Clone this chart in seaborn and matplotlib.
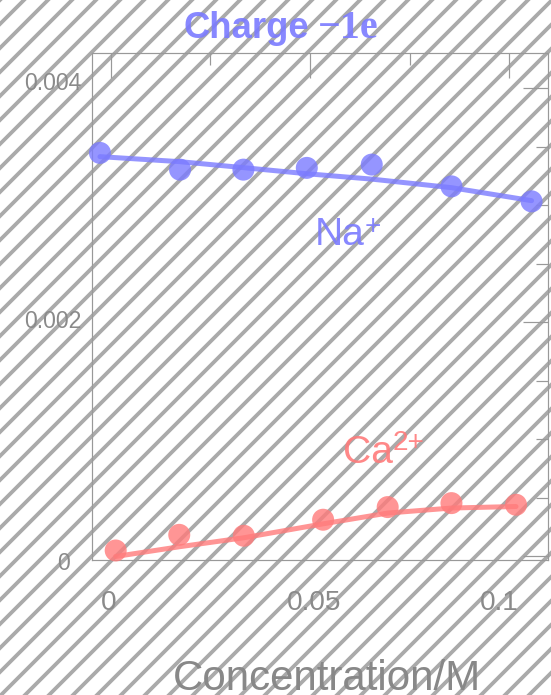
import matplotlib
matplotlib.use('Agg')
import matplotlib.pyplot as plt
from matplotlib.ticker import FixedLocator, FixedFormatter
from matplotlib.transforms import ScaledTranslation
import pandas as pd
import seaborn as sns

sns.set_style('white')
plt.rcParams['font.family'] = ['Liberation Sans', 'DejaVu Sans']
plt.rcParams['hatch.linewidth'] = 3.8

# values
na_x = [-0.0027, 0.0174, 0.0333, 0.0492, 0.0655, 0.0855, 0.1056]
na_y = [0.003448, 0.003305, 0.003305, 0.003320, 0.003348, 0.003162, 0.003034]
na_line = [0.003416, 0.003373, 0.003322, 0.003270, 0.003224, 0.003151, 0.003040]

ca_x = [0.00125, 0.0172, 0.0334, 0.0533, 0.0695, 0.0855, 0.1017]
ca_y = [0.0000513, 0.000185, 0.000177, 0.000314, 0.000422, 0.000456, 0.000442]
ca_line = [0.0, 0.000083, 0.000160, 0.000279, 0.000371, 0.000414, 0.000427]

x_ticks = [0, 0.05, 0.1]
x_labels = ['0', '0.05', '0.1']
x_minor = [0.025, 0.075]
y_ticks = [0, 0.002, 0.004]
y_labels = ['0', '0.002', '0.004']
y_minor = [0.0005, 0.001, 0.0015, 0.0025, 0.003, 0.0035]

na_color = '#7b7bff'
ca_color = '#ff7b7b'
gray = '#999999'
text_gray = '#8a8a8a'

na = pd.DataFrame({'x': na_x, 'y': na_y, 'line': na_line})
ca = pd.DataFrame({'x': ca_x, 'y': ca_y, 'line': ca_line})

fig = plt.figure(figsize=(551 / 72, 695 / 72), dpi=72)
fig.patch.set_facecolor('white')
fig.patch.set_edgecolor('#aaaaaa')
fig.patch.set_hatch('/')
fig.patch.set_linewidth(0)

ax = fig.add_axes([91.7 / 551, 1 - 560 / 695, 456.6 / 551, 507.3 / 695])
ax.patch.set_alpha(0)

for df, col in [(na, na_color), (ca, ca_color)]:
    sns.lineplot(data=df, x='x', y='line', ax=ax, color=col, alpha=0.8,
                 linewidth=5, sort=False, estimator=None, zorder=2)
    sns.scatterplot(data=df, x='x', y='y', ax=ax, color=col, alpha=0.8,
                    s=22 ** 2, edgecolor='none', zorder=3, clip_on=False)

ax.set_xlim(-0.00477, 0.1098)
ax.set_ylim(-0.00003, 0.004304)

ax.xaxis.set_major_locator(FixedLocator(x_ticks))
ax.xaxis.set_major_formatter(FixedFormatter(x_labels))
ax.xaxis.set_minor_locator(FixedLocator(x_minor))
ax.yaxis.set_major_locator(FixedLocator(y_ticks))
ax.yaxis.set_major_formatter(FixedFormatter(y_labels))
ax.yaxis.set_minor_locator(FixedLocator(y_minor))

ax.tick_params(which='both', direction='in', top=True, right=True,
               color=gray, width=1.2)
ax.tick_params(which='major', length=25)
ax.tick_params(which='minor', length=12)
ax.tick_params(axis='y', which='major', labelsize=23, pad=10, labelcolor=text_gray)
ax.tick_params(axis='x', which='major', labelsize=28, pad=30, labelcolor=text_gray)

# small per-label nudges, as in the reference
for lab, dx in zip(ax.get_xticklabels(), [-2, 4, -10]):
    lab.set_transform(lab.get_transform() + ScaledTranslation(dx / 72, 0, fig.dpi_scale_trans))
for lab, (dx, dy) in zip(ax.get_yticklabels(), [(-12, -5), (0, 3), (0, 7)]):
    lab.set_transform(lab.get_transform() + ScaledTranslation(dx / 72, dy / 72, fig.dpi_scale_trans))

for s in ax.spines.values():
    s.set_color(gray)
    s.set_linewidth(1.2)
    s.set_visible(True)

ax.set_ylabel('')
ax.set_xlabel('Concentration/M', fontsize=42, color='#888888')
ax.xaxis.set_label_coords((327 - 91.7) / 456.6, (560 - 659) / 507.3)

na_t = ax.text(0.0512, 0.002664, 'Na', fontsize=39, color=na_color,
               alpha=0.9, ha='left', va='baseline')
ax.annotate('+', xy=(1, 1), xycoords=na_t, xytext=(0, 3), textcoords='offset points',
            fontsize=28, color=na_color, alpha=0.9, ha='left', va='top')
ca_t = ax.text(0.0583, 0.0008, 'Ca', fontsize=39, color=ca_color,
               alpha=0.9, ha='left', va='baseline')
ax.annotate('2+', xy=(1, 1), xycoords=ca_t, xytext=(0, 5), textcoords='offset points',
            fontsize=28, color=ca_color, alpha=0.9, ha='left', va='top')

# title: sans bold word followed by serif bold charge
title_y = 1 - 38 / 695
fig.text(309 / 551, title_y, 'Charge', fontsize=36.5, fontweight='bold',
         color=na_color, alpha=0.9, ha='right', va='baseline')
fig.text(318 / 551, title_y, '\u22121e', fontsize=40, fontweight='bold',
         family='Liberation Serif', color=na_color, alpha=0.9,
         ha='left', va='baseline')

fig.savefig('out.png', dpi=72)
